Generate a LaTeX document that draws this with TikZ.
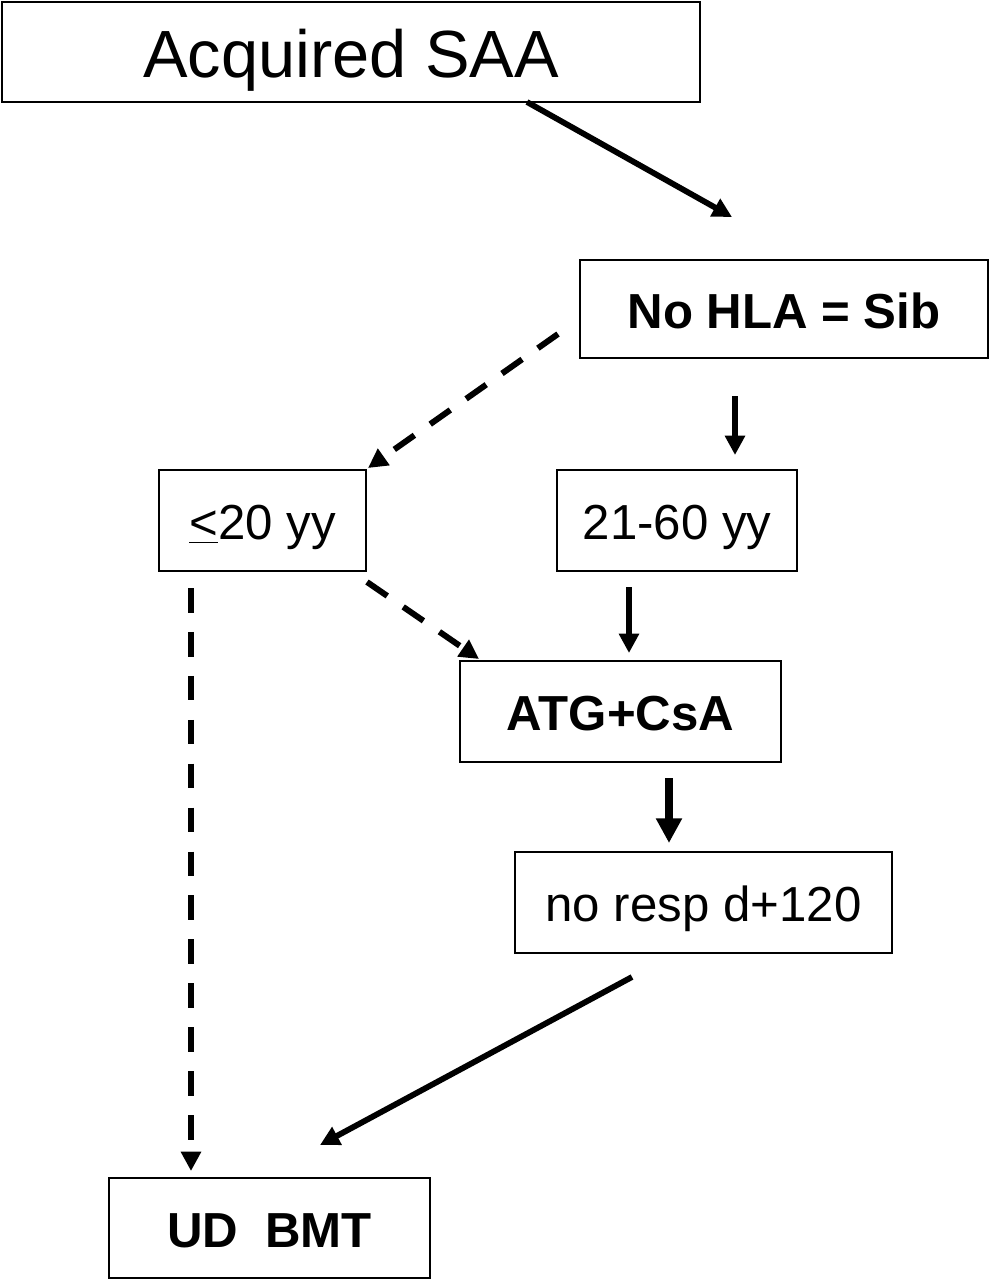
\documentclass[tikz,border=0pt]{standalone}
\usepackage{fontspec}
\setmainfont{Liberation Sans}
\usetikzlibrary{arrows.meta}

\tikzset{
  box/.style={draw, line width=1.1pt, inner sep=0pt, text height=22pt, text depth=0pt,
    font=\fontsize{28}{34}\selectfont},
  flow/.style={line width=3.3pt, -{Triangle[length=11pt,width=11pt]}},
  dflow/.style={flow, line width=3.4pt, dash pattern=on 14pt off 11pt},
}

\begin{document}
\begin{tikzpicture}[x=0.02cm, y=-0.02cm]
			\useasboundingbox (0,0) rectangle (989,1282);
			\node[box, minimum width=13.96cm, minimum height=2cm, text height=29pt,
			      font=\fontsize{38}{44}\selectfont] (saa) at (351,52) {Acquired SAA};
			\node[box, minimum width=8.16cm, minimum height=1.96cm, font=\fontsize{28}{34}\selectfont\bfseries]
			      (sib) at (784,309) {No HLA = Sib};
			\node[box, minimum width=4.14cm, minimum height=2.02cm] (young) at (262.5,520.5) {\underline{<}20 yy};
			\node[box, minimum width=4.8cm, minimum height=2.02cm] (mid) at (677,520.5) {21-60 yy};
			\node[box, minimum width=6.42cm, minimum height=2.02cm, font=\fontsize{28}{34}\selectfont\bfseries]
			      (atg) at (620.5,711.5) {ATG+CsA};
			\node[box, minimum width=7.54cm, minimum height=2.02cm] (resp) at (703.5,902.5) {no resp d+120};
			\node[box, minimum width=6.42cm, minimum height=2cm, font=\fontsize{28}{34}\selectfont\bfseries]
			      (ud) at (269.5,1228) {UD\ \ BMT};

			% free ends of the arrows (they stop short of the boxes)
			\coordinate (saa-out)   at (527,102);
			\coordinate (sib-in)    at (732,217);
			\coordinate (sib-dl)    at (558,334);
			\coordinate (young-in)  at (368,468);
			\coordinate (sib-dn)    at (735,396);
			\coordinate (mid-in)    at (735,455);
			\coordinate (young-dr)  at (367,582);
			\coordinate (atg-inl)   at (479,659);
			\coordinate (young-dn)  at (191,588);
			\coordinate (ud-in)     at (191,1171);
			\coordinate (mid-dn)    at (629,587);
			\coordinate (atg-in)    at (629,653);
			\coordinate (atg-dn)    at (669,778);
			\coordinate (resp-in)   at (669,843);
			\coordinate (resp-out)  at (632,977);
			\coordinate (ud-inr)    at (320,1145);

			\def\solidlist {saa-out/sib-in, sib-dn/mid-in, mid-dn/atg-in, resp-out/ud-inr}  % solid arrows
			\foreach \u\v in \solidlist
			{	\draw[flow] (\u) -- (\v);
			}
			\def\dashlist {sib-dl/young-in, young-dr/atg-inl, young-dn/ud-in}  % dashed arrows
			\foreach \u\v in \dashlist
			{	\draw[dflow] (\u) -- (\v);
			}

			\draw[line width=4.5pt, -{Triangle[length=14pt,width=14pt]}] (atg-dn) -- (resp-in);
		\end{tikzpicture}
\end{document}
